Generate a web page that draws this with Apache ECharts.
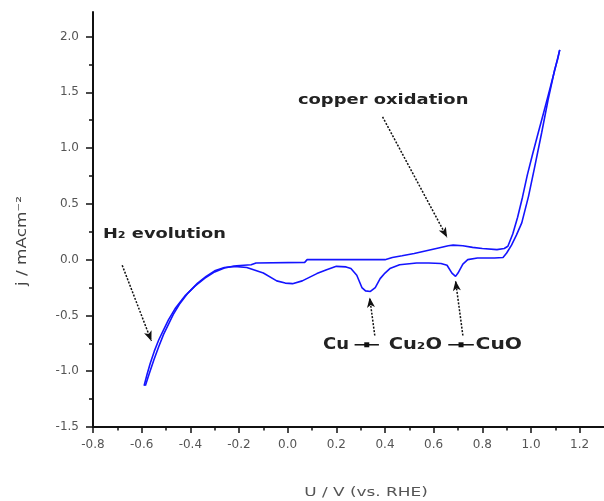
<!DOCTYPE html>
<html><head><meta charset="utf-8">
<script src="https://cdn.jsdelivr.net/npm/echarts@6/dist/echarts.min.js"></script>
<style>html,body{margin:0;padding:0;background:#fff}#c{width:604px;height:501px}</style>
</head><body><div id="c"></div>
<script>
// ---- data (U in V vs RHE, j in mA cm^-2) ----
const anodicU = [-0.59,-0.578,-0.565,-0.548,-0.53,-0.51,-0.49,-0.46,-0.42,-0.38,-0.34,-0.30,-0.26,-0.21,-0.15,-0.13,0.07,0.08,0.40,0.43,0.47,0.52,0.57,0.62,0.66,0.68,0.72,0.76,0.80,0.86,0.89,0.905,0.925,0.945,0.965,0.985,1.007,1.03,1.056,1.08,1.10,1.118];
const anodicJ = [-1.13,-1.03,-0.93,-0.82,-0.72,-0.63,-0.54,-0.43,-0.32,-0.235,-0.165,-0.11,-0.075,-0.055,-0.045,-0.03,-0.024,0.0,0.0,0.02,0.035,0.055,0.08,0.105,0.125,0.13,0.125,0.11,0.10,0.09,0.10,0.12,0.23,0.38,0.56,0.76,0.95,1.14,1.35,1.55,1.72,1.88];
const cathodicU = [1.118,1.11,1.097,1.07,1.044,1.015,0.99,0.962,0.94,0.92,0.90,0.885,0.85,0.78,0.74,0.72,0.70,0.69,0.675,0.655,0.63,0.58,0.53,0.46,0.42,0.40,0.38,0.36,0.34,0.32,0.305,0.284,0.26,0.24,0.20,0.16,0.12,0.06,0.02,-0.01,-0.045,-0.10,-0.168,-0.22,-0.26,-0.30,-0.335,-0.37,-0.41,-0.445,-0.47,-0.49,-0.51,-0.53,-0.55,-0.57,-0.585];
const cathodicJ = [1.88,1.80,1.70,1.43,1.14,0.83,0.57,0.33,0.22,0.13,0.06,0.02,0.015,0.015,0.0,-0.04,-0.12,-0.15,-0.12,-0.05,-0.035,-0.03,-0.03,-0.045,-0.08,-0.12,-0.17,-0.25,-0.285,-0.28,-0.25,-0.14,-0.08,-0.065,-0.06,-0.09,-0.125,-0.19,-0.215,-0.21,-0.19,-0.12,-0.07,-0.06,-0.07,-0.10,-0.15,-0.21,-0.30,-0.40,-0.49,-0.58,-0.67,-0.78,-0.90,-1.03,-1.13];

const xTicks = [-0.8,-0.6,-0.4,-0.2,0.0,0.2,0.4,0.6,0.8,1.0,1.2];
const xMinorTicks = [-0.7,-0.5,-0.3,-0.1,0.1,0.3,0.5,0.7,0.9,1.1];
const yTicks = [-1.5,-1.0,-0.5,0.0,0.5,1.0,1.5,2.0];
const yMinorTicks = [-1.25,-0.75,-0.25,0.25,0.75,1.25,1.75];

const xTitle = 'U / V (vs. RHE)';
const yTitle = 'j / mAcm⁻²';

// annotations (data coordinates)
const arrowFrom = [[0.39,1.28],[-0.68,-0.05],[0.358,-0.68],[0.72,-0.68]];
const arrowTo   = [[0.655,0.20],[-0.56,-0.73],[0.337,-0.34],[0.69,-0.19]];
const noteText  = ['copper oxidation','H₂ evolution','Cu','Cu₂O','CuO'];
const noteAt    = [[0.042,1.427],[-0.759,0.224],[0.145,-0.763],[0.415,-0.763],[0.772,-0.763]];
const linkFrom  = [[0.275,-0.763],[0.66,-0.763]];
const linkTo    = [[0.375,-0.763],[0.765,-0.763]];

const zip = (a,b) => a.map((v,i)=>[v,b[i]]);
const fmt = v => v.toFixed(1);
const FONT = 'DejaVu Sans';

const axisBase = { type:'value', splitLine:{show:false} };
const option = {
  animation:false,
  backgroundColor:'#fff',
  grid:{left:93, right:0, top:12, bottom:74, containLabel:false},
  xAxis:[
    Object.assign({}, axisBase, {
      min:-0.8, max:1.3, interval:0.2,
      axisLine:{show:true, onZero:false, lineStyle:{color:'#111', width:2}},
      axisTick:{show:true, inside:false, length:6, lineStyle:{color:'#111', width:1.5}, customValues:xTicks},
      axisLabel:{show:true, margin:12, color:'#555', fontFamily:FONT, fontSize:12, formatter:fmt, customValues:xTicks}
    }),
    Object.assign({}, axisBase, {
      min:-0.8, max:1.3, position:'bottom',
      axisLine:{show:false, onZero:false},
      axisTick:{show:true, inside:false, length:3.5, lineStyle:{color:'#111', width:1.5}, customValues:xMinorTicks},
      axisLabel:{show:false}
    })
  ],
  yAxis:[
    Object.assign({}, axisBase, {
      min:-1.5, max:2.22, interval:0.5,
      axisLine:{show:true, onZero:false, lineStyle:{color:'#111', width:2}},
      axisTick:{show:true, inside:false, length:7, lineStyle:{color:'#111', width:1.5}, customValues:yTicks},
      axisLabel:{show:true, margin:14, color:'#555', fontFamily:FONT, fontSize:12, formatter:fmt, customValues:yTicks}
    }),
    Object.assign({}, axisBase, {
      min:-1.5, max:2.22, position:'left',
      axisLine:{show:false, onZero:false},
      axisTick:{show:true, inside:false, length:4, lineStyle:{color:'#111', width:1.5}, customValues:yMinorTicks},
      axisLabel:{show:false}
    })
  ],
  series:[
    {
      name:'anodic', type:'line', xAxisIndex:0, yAxisIndex:0,
      data:zip(anodicU, anodicJ), showSymbol:false, smooth:false,
      lineStyle:{color:'#1414ff', width:1.6}, silent:true,
      markLine:{
        silent:true, symbol:['none','arrow'], symbolSize:[6,10],
        label:{show:false}, emphasis:{disabled:true},
        lineStyle:{color:'#111', width:1.5, type:[2,1.5]},
        data: arrowFrom.map((f,i)=>[{coord:f, symbol:'none'},{coord:arrowTo[i], symbol:'arrow'}])
      }
    },
    {
      name:'cathodic', type:'line', xAxisIndex:0, yAxisIndex:0,
      data:zip(cathodicU, cathodicJ), showSymbol:false, smooth:false,
      lineStyle:{color:'#1414ff', width:1.6}, silent:true
    }
  ]
};

const chart = echarts.init(document.getElementById('c'), null, {renderer:'canvas'});
chart.setOption(option);

const P = c => chart.convertToPixel({xAxisIndex:0, yAxisIndex:0}, c);
const g = [];
const noteStyle = [
  {size:14, sx:1.28},
  {size:14, sx:1.27},
  {size:15, sx:1.2},
  {size:15, sx:1.3},
  {size:15, sx:1.35}
];
noteText.forEach((t,i)=>{
  const p = P(noteAt[i]);
  g.push({type:'text', x:p[0], y:p[1], scaleX:noteStyle[i].sx, silent:true,
    style:{text:t, fill:'#222', fontFamily:FONT, fontWeight:'bold', fontSize:noteStyle[i].size, align:'left', verticalAlign:'middle'}});
});
linkFrom.forEach((f,i)=>{
  const a = P(f), b = P(linkTo[i]);
  g.push({type:'line', silent:true, shape:{x1:a[0], y1:a[1], x2:b[0], y2:b[1]}, style:{stroke:'#111', lineWidth:1.5}});
  const mx = (a[0]+b[0])/2;
  g.push({type:'rect', silent:true, shape:{x:mx-2.5, y:a[1]-2.5, width:5, height:5}, style:{fill:'#111'}});
});
// axis titles
g.push({type:'text', x:366, y:493, scaleX:1.3, silent:true,
  style:{text:xTitle, fill:'#555', fontFamily:FONT, fontSize:13, align:'center', verticalAlign:'middle'}});
g.push({type:'text', x:22, y:241, rotation:Math.PI/2, scaleX:1.2, silent:true,
  style:{text:yTitle, fill:'#444', fontFamily:FONT, fontSize:14, align:'center', verticalAlign:'middle'}});
chart.setOption({graphic:g});
</script>
</body></html>
